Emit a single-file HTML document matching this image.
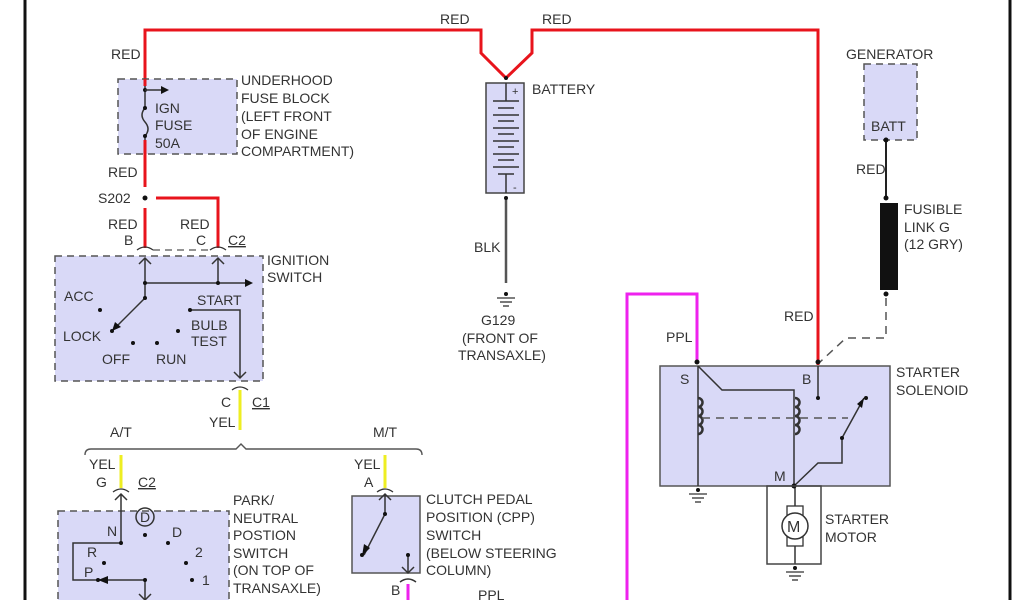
<!DOCTYPE html>
<html><head><style>
html,body{margin:0;padding:0;background:#fff;}
svg{display:block;}
text{font-family:"Liberation Sans",sans-serif;font-size:14px;fill:#333;}
</style></head><body>
<svg width="1024" height="600" viewBox="0 0 1024 600" xmlns="http://www.w3.org/2000/svg">
<rect width="1024" height="600" fill="#fff"/>
<line x1="25" y1="0" x2="25" y2="600" stroke="#111" stroke-width="3"/>
<line x1="1010" y1="0" x2="1010" y2="600" stroke="#111" stroke-width="3"/>

<!-- red top wire -->
<polyline points="145,187 145,30 481,30 481,53 506,78 532,53 532,30 818,30 818,365" fill="none" stroke="#e8141c" stroke-width="3"/>
<line x1="145" y1="208" x2="145" y2="248" stroke="#e8141c" stroke-width="3"/>
<polyline points="156,198 218,198 218,248" fill="none" stroke="#e8141c" stroke-width="3"/>
<circle cx="145" cy="198" r="2.5" fill="#111"/>

<!-- fuse block -->
<rect x="118" y="79" width="119" height="75" fill="#d9d9f7" stroke="#555" stroke-width="1.5" stroke-dasharray="7,5"/>
<line x1="145" y1="79" x2="145" y2="154" stroke="#e8141c" stroke-width="3"/>
<rect x="143" y="86" width="5" height="54" fill="#d9d9f7"/>
<line x1="145" y1="86" x2="145" y2="108" stroke="#333" stroke-width="1.5"/>
<line x1="145" y1="136" x2="145" y2="140" stroke="#333" stroke-width="1.5"/>
<path d="M145,108 q-6,7 0,14 q6,7 0,14" fill="none" stroke="#333" stroke-width="1.5"/>
<circle cx="145" cy="90" r="2" fill="#111"/><circle cx="145" cy="108" r="2" fill="#111"/><circle cx="145" cy="136" r="2" fill="#111"/>
<line x1="145" y1="90" x2="163" y2="90" stroke="#333" stroke-width="1.5"/>
<polygon points="169,90 161,86 161,94" fill="#111"/>
<text x="155" y="113">IGN</text><text x="155" y="130">FUSE</text><text x="155" y="148">50A</text>
<text x="241" y="85">UNDERHOOD</text><text x="241" y="103">FUSE BLOCK</text><text x="241" y="121">(LEFT FRONT</text><text x="241" y="139">OF ENGINE</text><text x="241" y="156">COMPARTMENT)</text>
<text x="111" y="59">RED</text><text x="108" y="177">RED</text><text x="98" y="203">S202</text>
<text x="108" y="229">RED</text><text x="180" y="229">RED</text>
<text x="124" y="245">B</text><text x="196" y="245">C</text><text x="228" y="245" text-decoration="underline">C2</text>

<!-- ignition switch -->
<path d="M137,250 q8,-6 16,0 M210,250 q8,-6 16,0" fill="none" stroke="#333" stroke-width="1.3"/>
<line x1="153" y1="250" x2="210" y2="250" stroke="#555" stroke-width="1.3" stroke-dasharray="7,5"/>
<rect x="55" y="256" width="208" height="125" fill="#d9d9f7" stroke="#555" stroke-width="1.5" stroke-dasharray="7,5"/>
<g stroke="#333" stroke-width="1.5" fill="none">
<line x1="145" y1="258" x2="145" y2="298"/><polyline points="139,264 145,258 151,264"/>
<line x1="218" y1="258" x2="218" y2="283"/><polyline points="212,264 218,258 224,264"/>
<line x1="145" y1="283" x2="245" y2="283"/>
<line x1="145" y1="298" x2="118" y2="325"/>
<polyline points="190,310 240,310 240,378"/><polyline points="234,372 240,378 246,372"/>
</g>
<polygon points="245,279 253,283 245,287" fill="#111"/>
<polygon points="112,331 115,322 121,327" fill="#111"/>
<g fill="#111"><circle cx="145" cy="283" r="2"/><circle cx="218" cy="283" r="2"/><circle cx="145" cy="298" r="2"/><circle cx="100" cy="310" r="2"/><circle cx="112" cy="331" r="2"/><circle cx="133" cy="343" r="2"/><circle cx="157" cy="343" r="2"/><circle cx="178" cy="331" r="2"/><circle cx="190" cy="310" r="2"/></g>
<text x="64" y="301">ACC</text><text x="63" y="341">LOCK</text><text x="102" y="364">OFF</text><text x="156" y="364">RUN</text>
<text x="197" y="305">START</text><text x="191" y="330">BULB</text><text x="191" y="346">TEST</text>
<text x="267" y="265">IGNITION</text><text x="267" y="282">SWITCH</text>

<path d="M232,390 q8,-6 16,0" fill="none" stroke="#333" stroke-width="1.3"/>
<line x1="240" y1="390" x2="240" y2="430" stroke="#eeee22" stroke-width="3"/>
<text x="221" y="407">C</text><text x="252" y="407" text-decoration="underline">C1</text><text x="209" y="427">YEL</text>

<!-- brace -->
<path d="M85,455 q0,-6 6,-6 L236,449 L241,444 L246,449 L416,449 q6,0 6,6" fill="none" stroke="#555" stroke-width="1.4"/>
<text x="110" y="437">A/T</text><text x="373" y="437">M/T</text>
<line x1="121" y1="455" x2="121" y2="488" stroke="#eeee22" stroke-width="3"/>
<line x1="385" y1="455" x2="385" y2="488" stroke="#eeee22" stroke-width="3"/>
<text x="89" y="469">YEL</text><text x="354" y="469">YEL</text>
<text x="96" y="487">G</text><text x="138" y="487" text-decoration="underline">C2</text><text x="364" y="487">A</text>
<path d="M113,492 q8,-6 16,0 M377,492 q8,-6 16,0" fill="none" stroke="#333" stroke-width="1.3"/>

<!-- PNP switch -->
<rect x="58" y="511" width="171" height="95" fill="#d9d9f7" stroke="#555" stroke-width="1.5" stroke-dasharray="7,5"/>
<g stroke="#333" stroke-width="1.5" fill="none">
<polyline points="121,543 121,494"/><polyline points="115,500 121,494 127,500"/>
<polyline points="121,543 73,543 73,580 145,580 145,600"/><polyline points="139,594 145,600 151,594"/>
<circle cx="145" cy="517" r="9"/>
</g>
<polygon points="98,580 108,576 108,584" fill="#111"/>
<g fill="#111"><circle cx="121" cy="543" r="2"/><circle cx="145" cy="535" r="2"/><circle cx="168" cy="543" r="2"/><circle cx="104" cy="563" r="2"/><circle cx="98" cy="580" r="2"/><circle cx="145" cy="580" r="2"/><circle cx="186" cy="563" r="2"/><circle cx="192" cy="580" r="2"/></g>
<text x="140" y="522">D</text><text x="107" y="536">N</text><text x="172" y="537">D</text><text x="87" y="557">R</text><text x="195" y="557">2</text><text x="84" y="577">P</text><text x="202" y="585">1</text>
<text x="233" y="505">PARK/</text><text x="233" y="523">NEUTRAL</text><text x="233" y="540">POSTION</text><text x="233" y="558">SWITCH</text><text x="233" y="575">(ON TOP OF</text><text x="233" y="593">TRANSAXLE)</text>

<!-- CPP switch -->
<rect x="352" y="496" width="68" height="77" fill="#d9d9f7" stroke="#555" stroke-width="1.5"/>
<g stroke="#333" stroke-width="1.5" fill="none">
<line x1="385" y1="514" x2="385" y2="494"/><polyline points="379,500 385,494 391,500"/>
<line x1="385" y1="514" x2="364" y2="555"/>
<line x1="408" y1="555" x2="408" y2="573"/><polyline points="402,567 408,573 414,567"/>
<path d="M400,582 q8,-6 16,0"/>
</g>
<polygon points="362,556 364,544 370,548" fill="#111"/>
<g fill="#111"><circle cx="385" cy="514" r="2"/><circle cx="362" cy="555" r="2"/><circle cx="408" cy="555" r="2"/></g>
<line x1="408" y1="584" x2="408" y2="600" stroke="#ee22ee" stroke-width="3"/>
<text x="391" y="595">B</text><text x="478" y="600">PPL</text>
<text x="426" y="504">CLUTCH PEDAL</text><text x="426" y="522">POSITION (CPP)</text><text x="426" y="540">SWITCH</text><text x="426" y="558">(BELOW STEERING</text><text x="426" y="575">COLUMN)</text>

<!-- battery -->
<rect x="486" y="83" width="38" height="110" fill="#d9d9f7" stroke="#444" stroke-width="1.5"/>
<g stroke="#333" stroke-width="1.5">
<line x1="506" y1="83" x2="506" y2="101"/>
<line x1="493" y1="101" x2="519" y2="101"/><line x1="498" y1="108" x2="514" y2="108"/>
<line x1="493" y1="115" x2="519" y2="115"/><line x1="498" y1="121" x2="514" y2="121"/>
<line x1="493" y1="128" x2="519" y2="128"/><line x1="498" y1="134" x2="514" y2="134"/>
<line x1="493" y1="141" x2="519" y2="141"/><line x1="498" y1="147" x2="514" y2="147"/>
<line x1="493" y1="154" x2="519" y2="154"/><line x1="498" y1="160" x2="514" y2="160"/>
<line x1="493" y1="167" x2="519" y2="167"/><line x1="498" y1="174" x2="514" y2="174"/>
<line x1="506" y1="174" x2="506" y2="193"/>
</g>
<text x="512" y="95" style="font-size:11px">+</text><text x="513" y="191" style="font-size:11px">-</text>
<circle cx="506" cy="78" r="2" fill="#111"/>
<line x1="506" y1="198" x2="506" y2="283" stroke="#555" stroke-width="2.5"/>
<circle cx="506" cy="198" r="2" fill="#111"/>
<circle cx="506" cy="294" r="2" fill="#111"/>
<g stroke="#333" stroke-width="1.3"><line x1="497" y1="298" x2="515" y2="298"/><line x1="500" y1="302" x2="512" y2="302"/><line x1="503" y1="306" x2="509" y2="306"/></g>
<text x="532" y="94">BATTERY</text><text x="474" y="252">BLK</text>
<text x="481" y="325">G129</text><text x="462" y="343">(FRONT OF</text><text x="458" y="360">TRANSAXLE)</text>
<text x="440" y="24">RED</text><text x="542" y="24">RED</text>

<!-- generator -->
<rect x="864" y="64" width="53" height="76" fill="#d9d9f7" stroke="#555" stroke-width="1.5" stroke-dasharray="7,5"/>
<text x="846" y="59">GENERATOR</text><text x="871" y="131">BATT</text>
<line x1="886" y1="140" x2="886" y2="200" stroke="#222" stroke-width="2"/>
<circle cx="886" cy="140" r="2.5" fill="#111"/><circle cx="886" cy="198" r="2.5" fill="#111"/>
<text x="856" y="174">RED</text>
<rect x="880" y="203" width="18" height="87" fill="#111"/>
<circle cx="886" cy="294" r="2.5" fill="#111"/>
<polyline points="886,298 886,338 846,338 820,362" fill="none" stroke="#555" stroke-width="1.5" stroke-dasharray="8,6"/>
<text x="904" y="214">FUSIBLE</text><text x="904" y="232">LINK G</text><text x="904" y="249">(12 GRY)</text>
<text x="784" y="321">RED</text>

<!-- magenta -->
<polyline points="627,600 627,294 697,294 697,362" fill="none" stroke="#ee22ee" stroke-width="3"/>
<text x="666" y="342">PPL</text>

<!-- solenoid -->
<rect x="660" y="366" width="230" height="120" fill="#d9d9f7" stroke="#555" stroke-width="1.5"/>
<circle cx="697" cy="362" r="2.5" fill="#111"/><circle cx="818" cy="362" r="2.5" fill="#111"/>
<text x="680" y="384">S</text><text x="802" y="384">B</text><text x="774" y="481">M</text>
<text x="896" y="377">STARTER</text><text x="896" y="395">SOLENOID</text>
<g stroke="#333" stroke-width="1.5" fill="none">
<line x1="698" y1="366" x2="698" y2="486"/>
<polyline points="698,366 722,390 794,390 794,486"/>
<line x1="818" y1="366" x2="818" y2="398"/>
<path d="M698,398 a4,4 0 0 1 0,9 a4,4 0 0 1 0,9 a4,4 0 0 1 0,9 a4,4 0 0 1 0,9" stroke-width="2.5"/>
<path d="M795,398 a4,4 0 0 1 0,9 a4,4 0 0 1 0,9 a4,4 0 0 1 0,9 a4,4 0 0 1 0,9" stroke-width="2.5"/>
<polyline points="794,486 818,463 842,463 842,438 864,398"/>
<line x1="795" y1="486" x2="795" y2="564"/>
</g>
<line x1="702" y1="418" x2="848" y2="418" stroke="#555" stroke-width="1.5" stroke-dasharray="8,6"/>
<polygon points="864,398 857,404 862,408" fill="#111"/>
<g fill="#111"><circle cx="818" cy="398" r="2"/><circle cx="866" cy="398" r="2"/><circle cx="842" cy="438" r="2"/><circle cx="794" cy="486" r="2.5"/><circle cx="698" cy="490" r="2"/><circle cx="795" cy="568" r="2"/></g>
<g stroke="#333" stroke-width="1.3"><line x1="689" y1="494" x2="707" y2="494"/><line x1="692" y1="498" x2="704" y2="498"/><line x1="695" y1="502" x2="701" y2="502"/>
<line x1="786" y1="572" x2="804" y2="572"/><line x1="789" y1="576" x2="801" y2="576"/><line x1="792" y1="580" x2="798" y2="580"/></g>
<rect x="767" y="486" width="54" height="78" fill="none" stroke="#444" stroke-width="1.5"/>
<rect x="787" y="506" width="16" height="40" fill="#fff" stroke="#333" stroke-width="1.3"/>
<circle cx="795" cy="526" r="13" fill="#fff" stroke="#333" stroke-width="1.5"/>
<text x="787" y="532" style="font-size:16px">M</text>
<text x="825" y="524">STARTER</text><text x="825" y="542">MOTOR</text>
</svg>
</body></html>
